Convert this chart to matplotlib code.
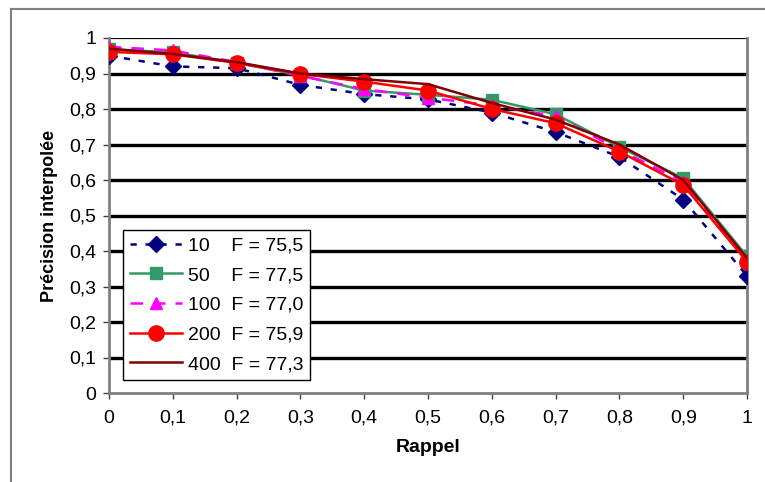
import numpy as np
import matplotlib
matplotlib.use("Agg")
import matplotlib.pyplot as plt
from matplotlib.lines import Line2D

plt.rcParams['font.family'] = ['Liberation Sans', 'DejaVu Sans']

# data
rappel = [0, 0.1, 0.2, 0.3, 0.4, 0.5, 0.6, 0.7, 0.8, 0.9, 1.0]
p10 = [0.950, 0.920, 0.915, 0.868, 0.842, 0.827, 0.790, 0.735, 0.665, 0.545, 0.330]
p50 = [0.968, 0.960, 0.930, 0.895, 0.852, 0.840, 0.826, 0.785, 0.693, 0.605, 0.385]
p100 = [0.975, 0.965, 0.932, 0.893, 0.856, 0.832, 0.810, 0.780, 0.685, 0.595, 0.375]
p200 = [0.961, 0.954, 0.930, 0.899, 0.877, 0.852, 0.800, 0.760, 0.680, 0.586, 0.370]
p400 = [0.970, 0.955, 0.932, 0.900, 0.884, 0.870, 0.817, 0.770, 0.700, 0.600, 0.380]
labels = ["10    F = 75,5", "50    F = 77,5", "100  F = 77,0",
          "200  F = 75,9", "400  F = 77,3"]
xticks = [0, 0.1, 0.2, 0.3, 0.4, 0.5, 0.6, 0.7, 0.8, 0.9, 1.0]
yticks = [0, 0.1, 0.2, 0.3, 0.4, 0.5, 0.6, 0.7, 0.8, 0.9, 1.0]

W, H = 765, 482
fig = plt.figure(figsize=(W / 100, H / 100), dpi=100)

# outer chart border (left and top visible)
fig.add_artist(Line2D([11 / W, 11 / W], [0, 1 - 9 / H], color='#808080', lw=1.5))
fig.add_artist(Line2D([11 / W, 1], [1 - 9 / H, 1 - 9 / H], color='#808080', lw=1.5))

ax = fig.add_axes([109 / W, 1 - 393 / H, (747 - 109) / W, (393 - 38) / H])
ax.set_xlim(0, 1)
ax.set_ylim(0, 1)

for y in yticks[1:-1]:
    ax.axhline(y, color='black', lw=2.4, zorder=1)
ax.axhline(1.0, color='black', lw=1.6, zorder=1)

ax.plot(rappel, p10, color='#000080', lw=1.8, ls=(0, (2.5, 3.5)), marker='D',
        ms=8.5, mfc='#000080', mec='#000080', label=labels[0], zorder=3)
ax.plot(rappel, p50, color='#339966', lw=1.8, marker='s',
        ms=8, mfc='#339966', mec='#339966', label=labels[1], zorder=3)
ax.plot(rappel, p100, color='#FF00FF', lw=1.8, ls=(0, (5, 4)), marker='^',
        ms=9, mfc='#FF00FF', mec='#FF00FF', label=labels[2], zorder=3)
ax.plot(rappel, p200, color='#FF0000', lw=1.8, marker='o',
        ms=11, mfc='#FF0000', mec='#FF0000', label=labels[3], zorder=3)
ax.plot(rappel, p400, color='#800000', lw=1.8, label=labels[4], zorder=4)

ax.set_xticks(xticks)
ax.set_yticks(yticks)
fmt = lambda v: ('%g' % v).replace('.', ',')
ax.set_xticklabels([fmt(v) for v in xticks], fontsize=14)
ax.set_yticklabels([fmt(v) for v in yticks], fontsize=14)
ax.tick_params(direction='out', length=4, width=1, color='#404040')
ax.tick_params(axis='x', pad=8)
ax.tick_params(axis='y', pad=5)

for side in ['left', 'bottom', 'right']:
    ax.spines[side].set_color('#808080')
    ax.spines[side].set_linewidth(2)
ax.spines['top'].set_visible(False)

ax.set_xlabel('Rappel', fontsize=14, fontweight='bold', labelpad=9)
ax.set_ylabel('Précision interpolée', fontsize=13, fontweight='bold', labelpad=8)

leg = ax.legend(loc='lower left', bbox_to_anchor=(14 / 638, 13 / 355), fontsize=14,
                frameon=True, fancybox=False, edgecolor='black', framealpha=1,
                handlelength=2.7, handletextpad=0.3, labelspacing=0.62,
                borderpad=0.35, borderaxespad=0)
leg.get_frame().set_linewidth(1)
leg.set_zorder(10)

fig.savefig('out.png', dpi=100)
